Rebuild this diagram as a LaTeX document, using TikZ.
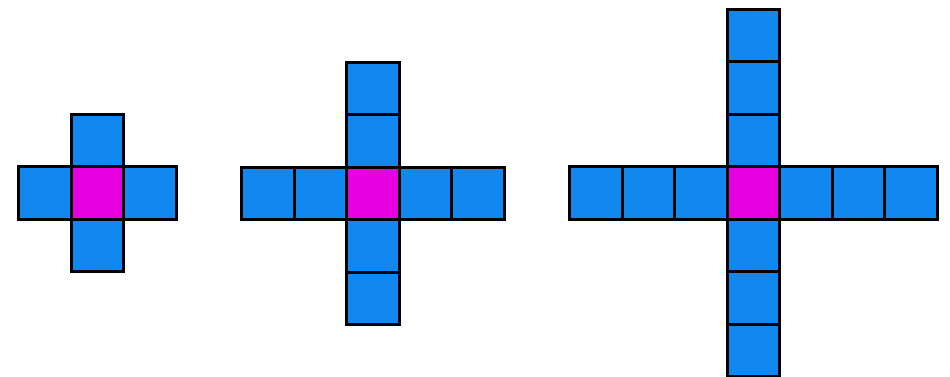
\documentclass[tikz,border=0pt]{standalone}
\definecolor{cellblue}{RGB}{16,136,240}
\definecolor{cellmag}{RGB}{230,0,224}
\tikzset{
  cell/.style={draw=black, fill=cellblue, line width=2.6pt, minimum size=52.5pt, inner sep=0pt, outer sep=0pt},
  centercell/.style={cell, fill=cellmag}
}
\begin{document}
\begin{tikzpicture}[x=1pt,y=1pt]
\useasboundingbox (0,0) rectangle (950,377);
% cross: #1 name, center x, center y (in image coordinates), arm length
\foreach \nm/\cx/\cy/\n in {a/97.5/193/1, b/373/193.5/2, c/753.5/193/3}{
  \foreach \k in {1,...,\n}{
    \node[cell] (\nm-l\k) at ({\cx-52.5*\k},{377-\cy}) {};
    \node[cell] (\nm-r\k) at ({\cx+52.5*\k},{377-\cy}) {};
    \node[cell] (\nm-u\k) at ({\cx},{377-\cy+52.5*\k}) {};
    \node[cell] (\nm-d\k) at ({\cx},{377-\cy-52.5*\k}) {};
  }
  \node[centercell] (\nm-c) at ({\cx},{377-\cy}) {};
}
\end{tikzpicture}
\end{document}
